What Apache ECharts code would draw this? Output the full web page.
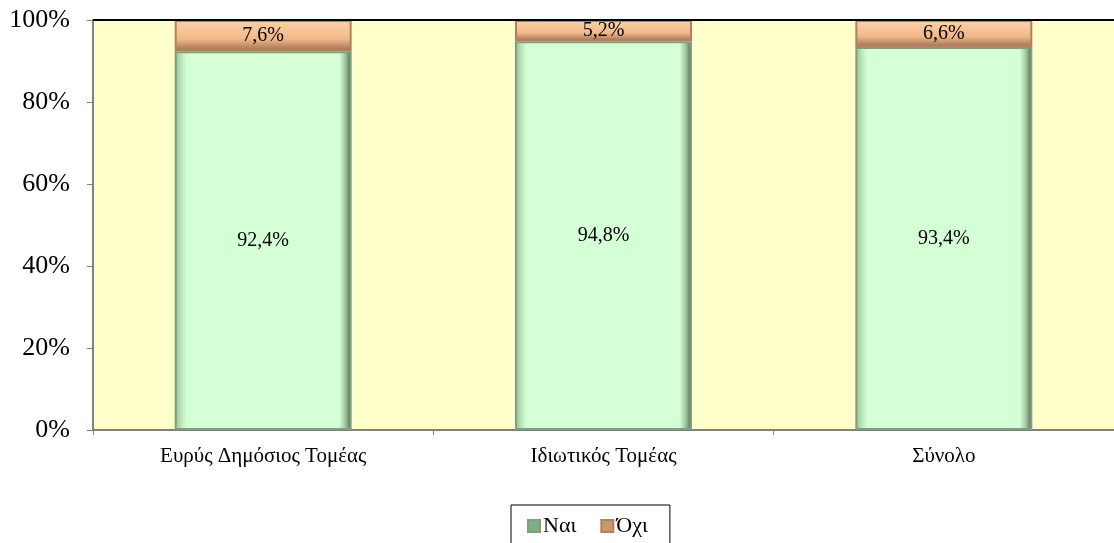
<!DOCTYPE html>
<html>
<head>
<meta charset="utf-8">
<script src="https://cdn.jsdelivr.net/npm/echarts@6/dist/echarts.min.js"></script>
<style>html,body{margin:0;padding:0;background:#fff;}#c{width:1114px;height:543px;}</style>
</head>
<body>
<div id="c"></div>
<script>
const categories = ['Ευρύς Δημόσιος Τομέας', 'Ιδιωτικός Τομέας', 'Σύνολο'];
const yesValues = [92.4, 94.8, 93.4];
const noValues = [7.6, 5.2, 6.6];
const seriesNames = ['Ναι', 'Όχι'];
const yTicks = [0, 20, 40, 60, 80, 100];

const font = '"Liberation Serif", "DejaVu Serif", serif';
const fmt = v => v.toFixed(1).replace('.', ',') + '%';

const greenFill = {
  type: 'linear', x: 0, y: 0, x2: 1, y2: 0,
  colorStops: [
    {offset: 0, color: '#8fbf8f'}, {offset: 0.04, color: '#bfe9bf'},
    {offset: 0.07, color: '#d5ffd5'}, {offset: 0.93, color: '#d5ffd5'},
    {offset: 0.965, color: '#9fc49f'}, {offset: 1, color: '#4a5f4a'}
  ]
};
const orangeFill = {
  type: 'linear', x: 0, y: 0, x2: 0, y2: 1,
  colorStops: [
    {offset: 0, color: '#fcd3a8'}, {offset: 0.6, color: '#f2b98a'},
    {offset: 1, color: '#a07050'}
  ]
};

const chart = echarts.init(document.getElementById('c'), null, {renderer: 'canvas'});
chart.setOption({
  animation: false,
  textStyle: {fontFamily: font},
  grid: {left: 93, right: -6, top: 20, bottom: 113, show: true, backgroundColor: '#ffffcc', borderWidth: 0},
  xAxis: {
    type: 'category', data: categories,
    axisLine: {lineStyle: {color: '#808080', width: 2}},
    axisTick: {show: true, length: 5, lineStyle: {color: '#808080', width: 1}},
    axisLabel: {color: '#000', fontSize: 21, fontFamily: font, margin: 16}
  },
  yAxis: {
    type: 'value', min: 0, max: 100, interval: 20,
    axisLine: {show: true, lineStyle: {color: '#808080', width: 2}},
    axisTick: {show: true, length: 6, lineStyle: {color: '#808080'}},
    splitLine: {show: false},
    axisLabel: {color: '#000', fontSize: 26, fontFamily: font, margin: 23,
      formatter: v => yTicks.includes(v) ? v + '%' : ''}
  },
  legend: {
    bottom: -8, left: 511, itemGap: 24,
    padding: [10, 22, 14, 16],
    borderColor: '#000', borderWidth: 1,
    itemWidth: 12, itemHeight: 12,
    textStyle: {fontSize: 22, fontFamily: font, color: '#000', padding: [0, 0, 0, -2]},
    data: [
      {name: seriesNames[0], icon: 'rect', itemStyle: {color: '#7fae7f'}},
      {name: seriesNames[1], icon: 'rect', itemStyle: {color: '#c9976a'}}
    ]
  },
  graphic: [{
    type: 'line', shape: {x1: 93, y1: 20, x2: 1114, y2: 20},
    style: {stroke: '#000', lineWidth: 2}, z: 10
  }],
  series: [
    {
      name: seriesNames[0], type: 'bar', stack: 's', barWidth: '52%',
      data: yesValues,
      itemStyle: {color: greenFill, borderColor: '#7f9f7f', borderWidth: 2},
      label: {show: true, position: 'inside', color: '#000', fontSize: 20, fontFamily: font,
        formatter: p => fmt(p.value)}
    },
    {
      name: seriesNames[1], type: 'bar', stack: 's', barWidth: '52%',
      data: noValues,
      itemStyle: {color: orangeFill, borderColor: '#b08060', borderWidth: 2},
      label: {show: true, position: 'inside', color: '#000', fontSize: 20, fontFamily: font,
        formatter: p => fmt(p.value)}
    }
  ]
});
</script>
</body>
</html>
